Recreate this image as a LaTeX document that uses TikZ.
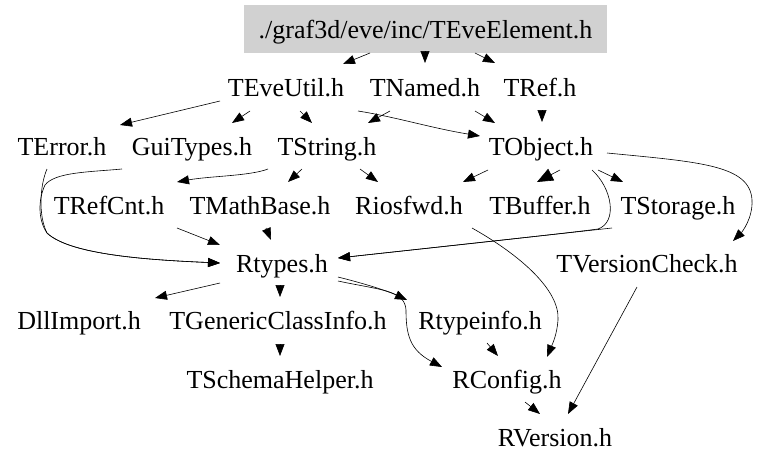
\documentclass[tikz,border=0pt]{standalone}
\usepackage{fontspec}
\setmainfont{Liberation Serif}
\usetikzlibrary{arrows.meta,calc}
\definecolor{rootgray}{HTML}{D1D1D1}
\begin{document}
\begin{tikzpicture}[x=1pt,y=-1pt,
  fnode/.style={inner sep=0pt,text height=24pt,text depth=6pt,font=\fontsize{26}{30}\selectfont},
  rootnode/.style={fnode,fill=rootgray,minimum width=363pt,minimum height=48pt},
  edge/.style={line width=0.6pt,-{Triangle[length=12pt,width=9pt]}},
  boldedge/.style={line width=0.6pt,-{Triangle[length=16pt,width=13pt]}}]
\useasboundingbox (0,0) rectangle (763,469);
\fill[white] (0,0) rectangle (763,469);
\node[rootnode] (root) at (425.5,29) {./graf3d/eve/inc/TEveElement.h};
\node[fnode] (teveutil) at (286,87) {TEveUtil.h};
\node[fnode] (tnamed) at (425,87) {TNamed.h};
\node[fnode] (tref) at (540,87) {TRef.h};
\node[fnode] (terror) at (62,146) {TError.h};
\node[fnode] (guitypes) at (192,146) {GuiTypes.h};
\node[fnode] (tstring) at (327,146) {TString.h};
\node[fnode] (tobject) at (541,146) {TObject.h};
\node[fnode] (trefcnt) at (109,205) {TRefCnt.h};
\node[fnode] (tmathbase) at (260,205) {TMathBase.h};
\node[fnode] (riosfwd) at (409,205) {Riosfwd.h};
\node[fnode] (tbuffer) at (540,205) {TBuffer.h};
\node[fnode] (tstorage) at (678,205) {TStorage.h};
\node[fnode] (rtypes) at (282,263) {Rtypes.h};
\node[fnode] (tversioncheck) at (647,263) {TVersionCheck.h};
\node[fnode] (dllimport) at (79,320) {DllImport.h};
\node[fnode] (tgeneric) at (278,320) {TGenericClassInfo.h};
\node[fnode] (rtypeinfo) at (480,320) {Rtypeinfo.h};
\node[fnode] (tschema) at (280,379) {TSchemaHelper.h};
\node[fnode] (rconfig) at (507,379) {RConfig.h};
\node[fnode] (rversion) at (555,437) {RVersion.h};

\draw[edge] ($(root)+(-55.5,24)$) -- ($(teveutil)+(57,-23)$);
\draw[edge] ($(root)+(-0.5,24)$) -- ($(tnamed)+(0,-24)$);
\draw[edge] ($(root)+(49.5,24)$) -- ($(tref)+(-45,-24)$);
\draw[edge] ($(teveutil)+(-66,14)$) -- ($(terror)+(58,-21)$);
\draw[edge] ($(teveutil)+(-36,24)$) -- ($(guitypes)+(40,-23)$);
\draw[edge] ($(teveutil)+(14,24)$) -- ($(tstring)+(-15,-23)$);
\draw[edge] ($(teveutil)+(72,24)$) .. controls ($(teveutil)+(110,30)$) and ($(tobject)+(-110,-18)$) .. ($(tobject)+(-61,-10)$);
\draw[edge] ($(tnamed)+(-35,24)$) -- ($(tstring)+(41,-23)$);
\draw[edge] ($(tnamed)+(50,24)$) -- ($(tobject)+(-46,-23)$);
\draw[edge] ($(tref)+(2,24)$) -- ($(tobject)+(1,-24)$);
\draw[edge] ($(tobject)+(-53,24)$) -- ($(riosfwd)+(54,-23)$);
\draw[boldedge] ($(tobject)+(19,24)$) -- ($(tbuffer)+(-3,-23)$);
\draw[edge] ($(tobject)+(57,24)$) -- ($(tstorage)+(-55,-23)$);
\draw[edge] ($(tobject)+(66,7)$) .. controls ($(tobject)+(159,16)$) and ($(tobject)+(209,19)$) .. ($(tobject)+(211,54)$) .. controls ($(tversioncheck)+(106,-45)$) and ($(tversioncheck)+(95,-31)$) .. ($(tversioncheck)+(86,-22)$);
\draw[edge] ($(tobject)+(51,24)$) .. controls ($(tobject)+(71,42)$) and ($(tobject)+(77,76)$) .. ($(tobject)+(57,83)$) .. controls ($(tobject)+(20,88)$) and ($(rtypes)+(120,-12)$) .. ($(rtypes)+(56,-5)$);
\draw[edge] ($(tstorage)+(-66,23)$) -- ($(rtypes)+(56,-5)$);
\draw[edge] ($(riosfwd)+(63,23)$) .. controls ($(riosfwd)+(111,50)$) and ($(riosfwd)+(151,85)$) .. ($(rconfig)+(51,-59)$) .. controls ($(rconfig)+(50,-44)$) and ($(rconfig)+(45,-34)$) .. ($(rconfig)+(40,-22)$);
\draw[edge] ($(tstring)+(-59,23)$) .. controls ($(tstring)+(-77,30)$) and ($(trefcnt)+(101,-29)$) .. ($(trefcnt)+(68,-23)$);
\draw[edge] ($(tstring)+(-25,23)$) -- ($(tmathbase)+(28,-23)$);
\draw[edge] ($(tstring)+(33,23)$) -- ($(riosfwd)+(-31,-23)$);
\draw[edge] ($(trefcnt)+(68,23)$) -- ($(rtypes)+(-62,-18)$);
\draw[edge] ($(tmathbase)+(6,23)$) -- ($(rtypes)+(-11,-23)$);
\draw[edge] ($(guitypes)+(-70,23)$) .. controls ($(guitypes)+(-102,26)$) and ($(guitypes)+(-137,26)$) .. ($(guitypes)+(-147,39)$) .. controls ($(guitypes)+(-154,54)$) and ($(guitypes)+(-154,74)$) .. ($(guitypes)+(-145,87)$) .. controls ($(rtypes)+(-212,-8)$) and ($(rtypes)+(-132,-3)$) .. ($(rtypes)+(-62,0)$);
\draw[edge] ($(terror)+(-15,23)$) .. controls ($(terror)+(-22,39)$) and ($(terror)+(-24,69)$) .. ($(terror)+(-15,87)$) .. controls ($(rtypes)+(-212,-8)$) and ($(rtypes)+(-132,-3)$) .. ($(rtypes)+(-62,0)$);
\draw[edge] ($(rtypes)+(-62,20)$) -- ($(dllimport)+(76,-22)$);
\draw[edge] ($(rtypes)+(-2,24)$) -- ($(tgeneric)+(2,-23)$);
\draw[edge] ($(rtypes)+(56,14)$) .. controls ($(rtypes)+(88,22)$) and ($(rtypeinfo)+(-90,-28)$) .. ($(rtypeinfo)+(-73,-20)$);
\draw[edge] ($(rtypes)+(56,18)$) .. controls ($(rtypes)+(98,27)$) and ($(rtypes)+(123,27)$) .. ($(rconfig)+(-101,-69)$) .. controls ($(rconfig)+(-101,-44)$) and ($(rconfig)+(-97,-29)$) .. ($(rconfig)+(-65,-12)$);
\draw[edge] ($(rtypeinfo)+(7,23)$) -- ($(rconfig)+(-9,-23)$);
\draw[edge] ($(tgeneric)+(2,24)$) -- ($(tschema)+(0,-23)$);
\draw[edge] ($(rconfig)+(18,23)$) -- ($(rversion)+(-15,-23)$);
\draw[edge] ($(tversioncheck)+(-10,24)$) -- ($(rversion)+(13,-23)$);
\end{tikzpicture}
\end{document}
